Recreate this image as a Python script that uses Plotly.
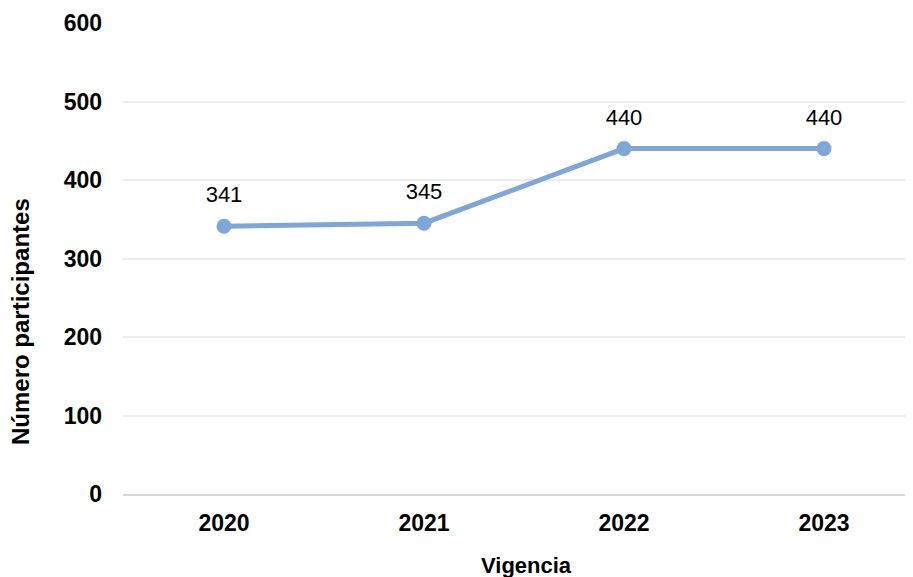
import plotly.graph_objects as go

years = ["2020", "2021", "2022", "2023"]
participants = [341, 345, 440, 440]
y_ticks = [0, 100, 200, 300, 400, 500, 600]

FONT = "Liberation Sans, Arial, sans-serif"

# The page body has an 8px default margin, so the figure is sized to fit.
W, H = 905, 569
L, R, T, B = 115, 0, 15, 83
PW, PH = W - L - R, H - T - B

fig = go.Figure()
fig.add_trace(go.Scatter(
    x=years, y=participants,
    mode="lines+markers",
    line=dict(color="#7FA6D6", width=5),
    marker=dict(color="#7FA6D6", size=15),
    cliponaxis=False,
    hoverinfo="skip",
))
# Data labels, pushed up by an invisible larger marker
fig.add_trace(go.Scatter(
    x=years, y=participants,
    mode="markers+text",
    marker=dict(color="rgba(0,0,0,0)", size=28),
    text=[str(v) for v in participants],
    textposition="top center",
    textfont=dict(family=FONT, size=22, color="#000000"),
    cliponaxis=False,
    hoverinfo="skip",
))

annotations = [
    dict(text="<b>Vigencia</b>", xref="paper", yref="paper",
         x=(518 - L) / PW, y=(H - B - 557) / PH, xanchor="center", yanchor="middle",
         showarrow=False, font=dict(family=FONT, size=22, color="#000000")),
    dict(text="<b>Número participantes</b>", xref="paper", yref="paper",
         x=(12 - L) / PW, y=(H - B - 314) / PH, xanchor="center", yanchor="middle",
         textangle=-90,
         showarrow=False, font=dict(family=FONT, size=24, color="#000000")),
]

fig.update_layout(
    width=W, height=H,
    margin=dict(l=L, r=R, t=T, b=B),
    paper_bgcolor="white", plot_bgcolor="white",
    showlegend=False,
    font=dict(family=FONT, color="#000000"),
    xaxis=dict(
        type="category",
        range=[-0.505, 3.445],
        showgrid=False,
        showline=True, linecolor="#D9D9D9", linewidth=2,
        tickfont=dict(family=FONT, size=23, color="#000000", weight="bold"),
        ticks="", ticklabelstandoff=7,
        zeroline=False,
    ),
    yaxis=dict(
        range=[0, 600],
        tickvals=y_ticks,
        showgrid=True, gridcolor="#EDEDED", gridwidth=2,
        zeroline=False,
        showline=False,
        tickfont=dict(family=FONT, size=23, color="#000000", weight="bold"),
        ticks="", ticklabelstandoff=20,
    ),
    annotations=annotations,
)

fig.write_html("out.html")
